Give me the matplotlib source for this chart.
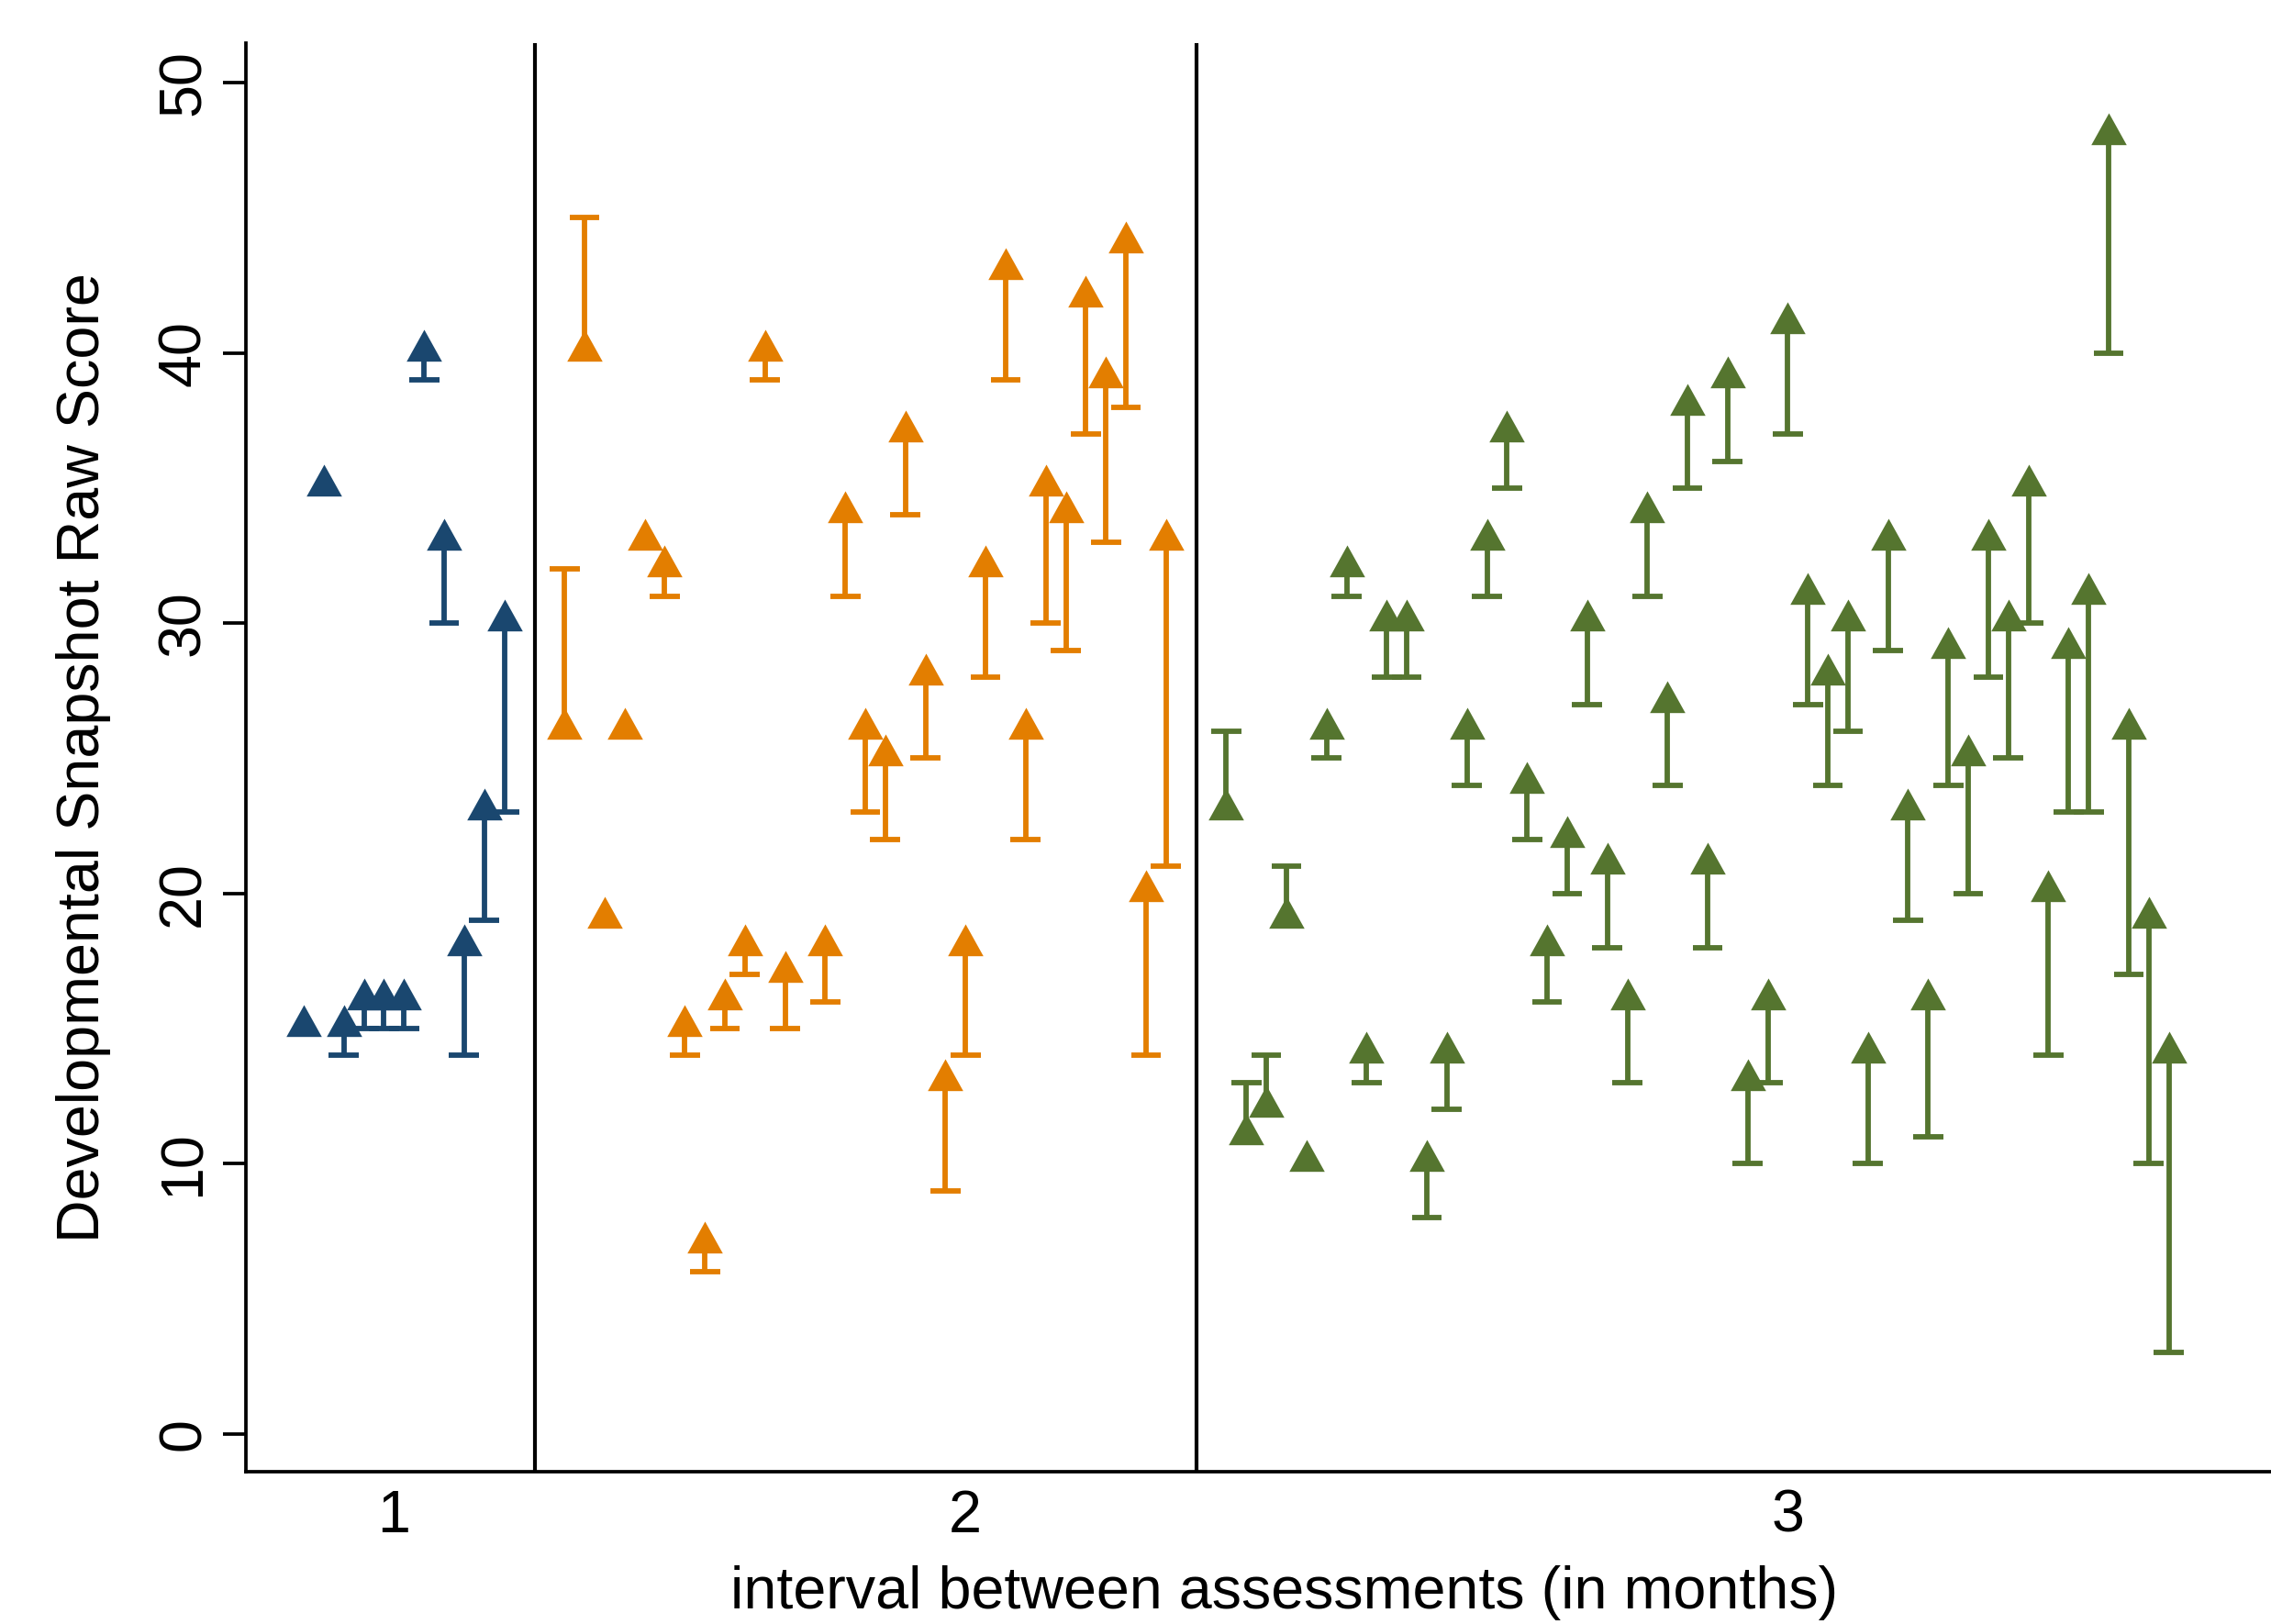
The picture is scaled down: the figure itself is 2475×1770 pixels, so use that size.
import matplotlib
matplotlib.use("Agg")
import matplotlib.pyplot as plt
from matplotlib.path import Path
import numpy as np

plt.rcParams['font.family'] = ['Liberation Sans', 'DejaVu Sans']

# ---- data: subject position on x axis, first assessment (cap), second assessment (triangle)
x_1 = [1, 2, 3, 4, 5, 6, 7, 8, 9, 10, 11]
first_1 = [15, 35, 14, 15, 15, 15, 39, 30, 14, 19, 23]
second_1 = [15, 35, 15, 16, 16, 16, 40, 33, 18, 23, 30]

x_2 = [14, 15, 16, 17, 18, 19, 20, 21, 22, 23, 24, 25, 27, 28, 29, 30, 31, 32,
       33, 34, 35, 36, 37, 38, 39, 40, 41, 42, 43, 44]
first_2 = [32, 45, 19, 26, 33, 31, 14, 6, 15, 17, 39, 15, 16, 31, 23, 22, 34, 25,
           9, 14, 28, 39, 22, 30, 29, 37, 33, 38, 14, 21]
second_2 = [26, 40, 19, 26, 33, 32, 15, 7, 16, 18, 40, 17, 18, 34, 26, 25, 37, 28,
            13, 18, 32, 43, 26, 35, 34, 42, 39, 44, 20, 33]

x_3 = list(range(47, 95))
first_3 = [26, 13, 14, 21, 10, 25, 31, 13, 28, 28, 8, 12, 24, 31, 35, 22, 16, 20,
           27, 18, 13, 31, 24, 35, 18, 36, 10, 13, 37, 27, 24, 26, 10, 29, 19, 11,
           24, 20, 28, 25, 30, 14, 23, 23, 40, 17, 10, 3]
second_3 = [23, 11, 12, 19, 10, 26, 32, 14, 30, 30, 10, 14, 26, 33, 37, 24, 18, 22,
            30, 21, 16, 34, 27, 38, 21, 39, 13, 16, 41, 31, 28, 30, 14, 33, 23, 16,
            29, 25, 33, 30, 35, 20, 29, 31, 48, 26, 19, 14]

group_separators = [12.55, 45.5]
tick_positions = [5.5, 34, 75]
tick_labels = ['1', '2', '3']
y_ticks = [0, 10, 20, 30, 40, 50]

colors = ['#1a476f', '#e37e00', '#55752f']

# ---- figure
fig = plt.figure(figsize=(8.25, 5.9), dpi=300)
ax = fig.add_axes([0.1083, 0.0938, 0.9147, 0.8797])

h = 0.9
tri = Path([(0, 0.75 * h), (-0.5, -0.25 * h), (0.5, -0.25 * h), (0, 0.75 * h)],
           [Path.MOVETO, Path.LINETO, Path.LINETO, Path.CLOSEPOLY])

cap_half = 0.75
lw = 1.4
for xs, f, s, c in [(x_1, first_1, second_1, colors[0]),
                    (x_2, first_2, second_2, colors[1]),
                    (x_3, first_3, second_3, colors[2])]:
    xs = np.asarray(xs, float)
    f = np.asarray(f, float)
    s = np.asarray(s, float)
    ax.vlines(xs, np.minimum(f, s), np.maximum(f, s), color=c, lw=lw, zorder=2)
    m = f != s
    ax.hlines(f[m], xs[m] - cap_half, xs[m] + cap_half, color=c, lw=lw, zorder=2)
    ax.plot(xs, s, linestyle='none', marker=tri, ms=12.5, color=c, mew=0, zorder=3)

for gx in group_separators:
    ax.axvline(gx, color='black', lw=1.0, zorder=1)

ax.set_xlim(-1.88, 101.7)
ax.set_ylim(-1.40, 51.47)

for sp in ['top', 'right']:
    ax.spines[sp].set_visible(False)
for sp in ['left', 'bottom']:
    ax.spines[sp].set_linewidth(0.9)
    ax.spines[sp].set_color('black')

ax.set_xticks(tick_positions)
ax.set_xticklabels(tick_labels, fontsize=15.5)
ax.tick_params(axis='x', length=0, pad=4.5)

ax.set_yticks(y_ticks)
ax.set_yticklabels([str(v) for v in y_ticks], fontsize=15.5)
ax.tick_params(axis='y', length=6, width=0.9, pad=3, labelrotation=90)
for lab in ax.get_yticklabels():
    lab.set_va('center')

ax.set_xlabel('interval between assessments (in months)', fontsize=15.5, labelpad=5.5)
ax.set_ylabel('Developmental Snapshot Raw Score', fontsize=15.5, labelpad=12)

fig.savefig('out.png', dpi=300, facecolor='white')
